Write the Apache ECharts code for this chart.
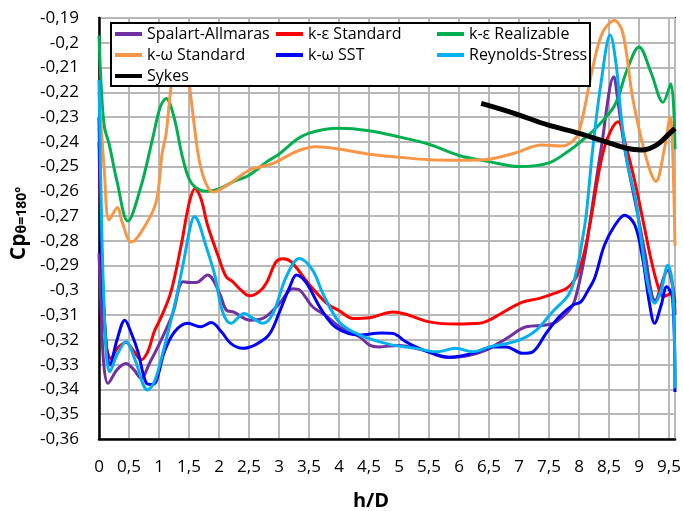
<!DOCTYPE html>
<html>
<head>
<meta charset="utf-8">
<script src="https://cdn.jsdelivr.net/npm/echarts@6/dist/echarts.min.js"></script>
<style>html,body{margin:0;padding:0;background:#fff;}#chart{width:683px;height:511px;}</style>
</head>
<body>
<div id="chart"></div>
<script>
// ---- Data (x = h/D, y = Cp) ----
const seriesNames = ['Spalart-Allmaras', 'k-ε Standard', 'k-ε Realizable', 'k-ω Standard', 'k-ω SST', 'Reynolds-Stress', 'Sykes'];

const spalartAllmaras = [[0,-0.285],[0.03,-0.305],[0.08,-0.33],[0.15,-0.3375],[0.3,-0.332],[0.45,-0.3295],[0.58,-0.332],[0.7,-0.3355],[0.85,-0.329],[1.01,-0.3214],[1.23,-0.3093],[1.4,-0.2965],[1.51,-0.2968],[1.62,-0.2968],[1.81,-0.2938],[2.01,-0.3012],[2.12,-0.3079],[2.25,-0.3088],[2.51,-0.312],[2.73,-0.3113],[3.01,-0.3052],[3.23,-0.2993],[3.34,-0.2998],[3.56,-0.3066],[3.8,-0.3105],[4.01,-0.3147],[4.34,-0.3187],[4.51,-0.3221],[4.67,-0.3228],[5.0,-0.3222],[5.4,-0.3241],[5.79,-0.327],[6.12,-0.3265],[6.45,-0.3241],[6.79,-0.3194],[7.12,-0.3147],[7.45,-0.314],[7.62,-0.3127],[7.84,-0.308],[7.93,-0.304],[8.09,-0.287],[8.2,-0.2696],[8.37,-0.2426],[8.58,-0.2137],[8.65,-0.2238],[8.76,-0.2426],[8.9,-0.26],[8.98,-0.2696],[9.1,-0.285],[9.27,-0.304],[9.48,-0.292],[9.56,-0.298],[9.6,-0.305]];

const keStandard = [[0,-0.24],[0.05,-0.29],[0.12,-0.322],[0.2,-0.3275],[0.3,-0.3235],[0.45,-0.321],[0.58,-0.3245],[0.7,-0.328],[0.81,-0.3249],[0.92,-0.3167],[1.04,-0.3106],[1.2,-0.3005],[1.37,-0.2817],[1.5,-0.265],[1.6,-0.2588],[1.7,-0.263],[1.81,-0.2737],[1.99,-0.2864],[2.12,-0.2945],[2.23,-0.2965],[2.35,-0.2995],[2.51,-0.3022],[2.67,-0.3005],[2.79,-0.297],[2.95,-0.2885],[3.06,-0.2872],[3.2,-0.2884],[3.51,-0.2978],[3.79,-0.3051],[4.01,-0.3083],[4.23,-0.3113],[4.51,-0.311],[4.9,-0.3087],[5.1,-0.3095],[5.51,-0.3127],[5.95,-0.3136],[6.34,-0.3133],[6.56,-0.3113],[7.01,-0.3052],[7.34,-0.3032],[7.59,-0.3012],[7.81,-0.2989],[7.97,-0.2938],[8.09,-0.2844],[8.18,-0.2736],[8.42,-0.2425],[8.65,-0.2319],[8.79,-0.2425],[8.93,-0.256],[9.09,-0.2745],[9.2,-0.2874],[9.31,-0.2978],[9.4,-0.3025],[9.48,-0.3018],[9.56,-0.301],[9.6,-0.31]];

const keRealizable = [[0,-0.197],[0.04,-0.219],[0.09,-0.234],[0.17,-0.241],[0.3,-0.256],[0.48,-0.272],[0.7,-0.258],[0.9,-0.238],[1.02,-0.226],[1.12,-0.2225],[1.25,-0.23],[1.4,-0.247],[1.55,-0.257],[1.8,-0.26],[2.0,-0.259],[2.25,-0.256],[2.5,-0.2535],[2.8,-0.248],[3.0,-0.245],[3.3,-0.239],[3.5,-0.2365],[3.75,-0.235],[4.0,-0.2345],[4.5,-0.2355],[5.0,-0.238],[5.5,-0.241],[6.0,-0.2455],[6.5,-0.248],[7.0,-0.25],[7.5,-0.2485],[7.85,-0.2433],[8.0,-0.2405],[8.3,-0.234],[8.6,-0.225],[8.8,-0.211],[9.0,-0.2017],[9.2,-0.212],[9.4,-0.224],[9.53,-0.2165],[9.6,-0.243]];

const kwStandard = [[0,-0.22],[0.09,-0.252],[0.17,-0.2715],[0.31,-0.2665],[0.38,-0.272],[0.54,-0.2805],[0.79,-0.273],[0.96,-0.2635],[1.05,-0.245],[1.12,-0.2365],[1.2,-0.218],[1.3,-0.205],[1.42,-0.205],[1.51,-0.218],[1.65,-0.2446],[1.76,-0.2555],[1.9,-0.2603],[2.2,-0.2565],[2.5,-0.2515],[2.9,-0.2487],[3.3,-0.2438],[3.62,-0.242],[4.0,-0.2429],[4.5,-0.245],[5.0,-0.2462],[5.5,-0.2472],[6.0,-0.2474],[6.5,-0.247],[6.92,-0.2446],[7.38,-0.2413],[7.7,-0.2417],[7.88,-0.24],[8.0,-0.236],[8.23,-0.21],[8.39,-0.196],[8.59,-0.191],[8.73,-0.196],[8.9,-0.223],[9.13,-0.2474],[9.28,-0.256],[9.43,-0.242],[9.52,-0.23],[9.56,-0.243],[9.6,-0.282]];

const kwSST = [[0,-0.23],[0.05,-0.29],[0.12,-0.322],[0.18,-0.3301],[0.3,-0.32],[0.43,-0.312],[0.55,-0.318],[0.65,-0.3248],[0.79,-0.3375],[0.88,-0.338],[0.95,-0.3369],[1.09,-0.3248],[1.26,-0.3167],[1.48,-0.3133],[1.7,-0.3147],[1.87,-0.313],[2.04,-0.3167],[2.2,-0.3215],[2.4,-0.3234],[2.62,-0.3218],[2.84,-0.3177],[3.01,-0.3086],[3.18,-0.2985],[3.29,-0.2938],[3.45,-0.2968],[3.7,-0.3075],[3.95,-0.315],[4.34,-0.318],[4.7,-0.3172],[4.9,-0.3174],[5.1,-0.3205],[5.3,-0.323],[5.56,-0.3254],[5.84,-0.327],[6.23,-0.3254],[6.56,-0.3228],[6.79,-0.3228],[7.06,-0.3254],[7.23,-0.3248],[7.45,-0.3174],[7.67,-0.3106],[7.9,-0.3059],[8.03,-0.3046],[8.15,-0.3],[8.26,-0.2951],[8.42,-0.282],[8.59,-0.274],[8.76,-0.2696],[8.93,-0.2736],[9.06,-0.287],[9.17,-0.3046],[9.26,-0.3133],[9.37,-0.3059],[9.46,-0.2985],[9.56,-0.3032],[9.6,-0.341]];

const reynoldsStress = [[0,-0.215],[0.05,-0.28],[0.12,-0.325],[0.18,-0.3328],[0.3,-0.326],[0.45,-0.3207],[0.6,-0.328],[0.81,-0.3402],[0.92,-0.337],[1.04,-0.3275],[1.26,-0.3059],[1.42,-0.2871],[1.52,-0.2745],[1.59,-0.2702],[1.66,-0.2725],[1.76,-0.2803],[1.93,-0.2938],[2.06,-0.3086],[2.2,-0.3133],[2.42,-0.3093],[2.55,-0.311],[2.73,-0.3133],[2.9,-0.3093],[3.12,-0.2945],[3.34,-0.2871],[3.56,-0.2918],[3.73,-0.3012],[4.01,-0.313],[4.34,-0.318],[4.84,-0.3218],[5.28,-0.3234],[5.62,-0.3248],[5.95,-0.3234],[6.23,-0.3248],[6.51,-0.3228],[6.73,-0.3218],[7.01,-0.32],[7.29,-0.316],[7.56,-0.3086],[7.84,-0.3012],[7.98,-0.2898],[8.06,-0.279],[8.12,-0.2696],[8.23,-0.2426],[8.37,-0.2157],[8.52,-0.1969],[8.62,-0.209],[8.7,-0.2292],[8.81,-0.2494],[8.93,-0.2615],[9.01,-0.275],[9.04,-0.2803],[9.15,-0.2978],[9.26,-0.3052],[9.37,-0.3],[9.48,-0.2898],[9.56,-0.2978],[9.6,-0.3395]];

const sykes = [[6.37,-0.2245],[6.92,-0.2285],[7.48,-0.2332],[8.0,-0.2366],[8.45,-0.24],[8.79,-0.2426],[9.04,-0.2433],[9.29,-0.2413],[9.51,-0.2366],[9.6,-0.2346]];

const seriesData = [spalartAllmaras, keStandard, keRealizable, kwStandard, kwSST, reynoldsStress, sykes];
const seriesColors = ['#7030A0', '#FF0000', '#00B050', '#F79646', '#0000FF', '#00B0F0', '#000000'];
const seriesWidths = [3, 3, 3, 3, 3, 3, 5];

const xAxisRange = { min: 0, max: 9.6, step: 0.5 };
const yAxisRange = { min: -0.36, max: -0.19, step: 0.01 };

const FONT = '"Open Sans", "Noto Sans", sans-serif';
const fmt = v => String(Math.round(v * 100) / 100).replace('.', ',');

const chart = echarts.init(document.getElementById('chart'), null, { renderer: 'canvas' });

const legendCommon = {
  orient: 'vertical', icon: 'rect', itemWidth: 27, itemHeight: 4, itemGap: 1, padding: 0,
  textStyle: { fontFamily: FONT, fontSize: 16, color: '#000', lineHeight: 20 },
  zlevel: 1, z: 12, selectedMode: false
};

chart.setOption({
  animation: false,
  backgroundColor: '#fff',
  grid: { left: 99, right: 8, top: 18, bottom: 72, outerBoundsMode: 'none', containLabel: false, show: true, borderColor: '#000', borderWidth: 2, backgroundColor: '#fff' },
  graphic: [{
    type: 'rect', zlevel: 1, z: 1,
    shape: { x: 111, y: 23, width: 479, height: 63 },
    style: { fill: '#fff', stroke: '#000', lineWidth: 2 }
  }],
  legend: [
    Object.assign({}, legendCommon, { left: 115, top: 24, data: [seriesNames[0], seriesNames[3], seriesNames[6]] }),
    Object.assign({}, legendCommon, { left: 276, top: 24, data: [seriesNames[1], seriesNames[4]] }),
    Object.assign({}, legendCommon, { left: 437, top: 24, data: [seriesNames[2], seriesNames[5]] })
  ],
  xAxis: {
    type: 'value', min: xAxisRange.min, max: xAxisRange.max, interval: xAxisRange.step,
    name: 'h/D', nameLocation: 'middle', nameGap: 52,
    nameTextStyle: { fontFamily: FONT, fontSize: 20, fontWeight: 'bold', color: '#000', padding: [0, 32, 0, 0] },
    axisLine: { show: true, onZero: false, lineStyle: { color: '#000', width: 2.5 } },
    axisTick: { show: false },
    axisLabel: { fontFamily: FONT, fontSize: 17, color: '#000', margin: 20, showMaxLabel: false, formatter: fmt },
    splitLine: { show: true, lineStyle: { color: '#b8b8b8', width: 2 } }
  },
  yAxis: {
    type: 'value', min: yAxisRange.min, max: yAxisRange.max, interval: yAxisRange.step,
    name: '{a|Cp}{b|θ=180°}', nameLocation: 'middle', nameRotate: 90, nameGap: 66,
    nameTextStyle: {
      padding: [0, 0, 0, 10],
      rich: {
        a: { fontFamily: FONT, fontSize: 21, fontWeight: 'bold', color: '#000', lineHeight: 28, verticalAlign: 'bottom' },
        b: { fontFamily: FONT, fontSize: 14, fontWeight: 'bold', color: '#000', lineHeight: 17, verticalAlign: 'bottom' }
      }
    },
    axisLine: { show: true, onZero: false, lineStyle: { color: '#000', width: 2.5 } },
    axisTick: { show: false },
    axisLabel: { fontFamily: FONT, fontSize: 17, color: '#000', margin: 20, formatter: fmt },
    splitLine: { show: true, lineStyle: { color: '#b8b8b8', width: 2 } }
  },
  series: seriesNames.map((name, i) => ({
    name, type: 'line', data: seriesData[i], smooth: 0.35, showSymbol: false, symbol: 'none',
    color: seriesColors[i],
    lineStyle: { color: seriesColors[i], width: seriesWidths[i] },
    z: 2 + (i === 6 ? 1 : 0)
  }))
});
</script>
</body>
</html>
